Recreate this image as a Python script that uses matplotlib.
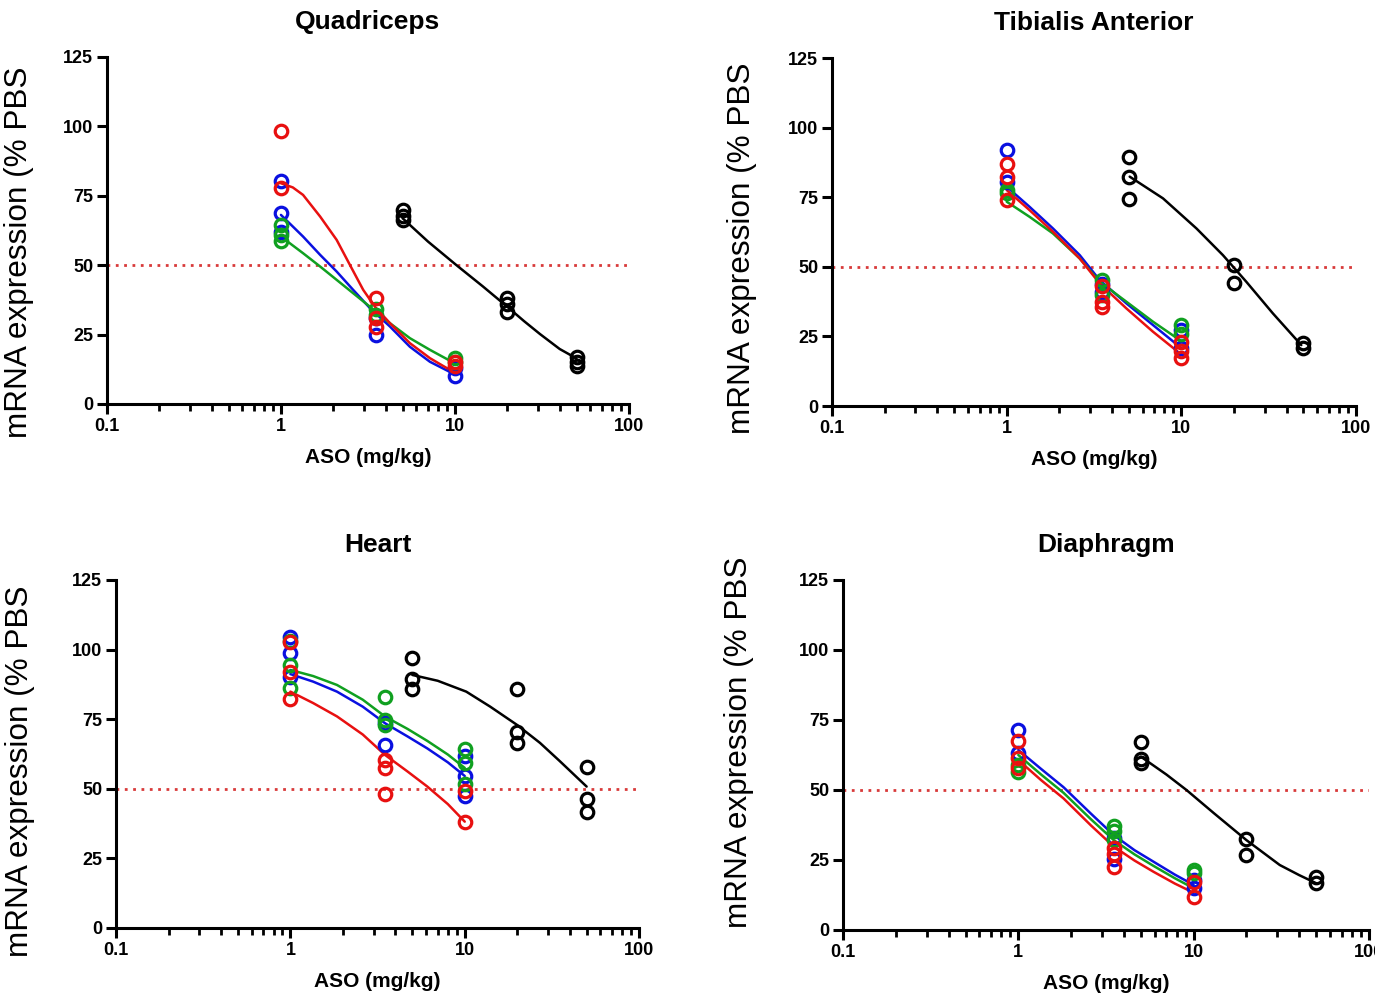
"""Dose-response of mRNA knockdown in four muscle tissues (four ASO series)."""
import matplotlib
matplotlib.use("Agg")
import matplotlib.pyplot as plt
from matplotlib.ticker import FixedLocator, LogLocator, NullFormatter

plt.rcParams["font.family"] = ["Liberation Sans", "DejaVu Sans"]

TITLES = ["Quadriceps", "Tibialis Anterior", "Heart", "Diaphragm"]
Y_LABEL = "mRNA expression (% PBS"
X_LABEL = "ASO (mg/kg)"
X_TICKS = [0.1, 1, 10, 100]
X_TICK_LABELS = ["0.1", "1", "10", "100"]
Y_TICKS = [0, 25, 50, 75, 100, 125]
HALF_LINE = 50

# individual animals, (dose, % PBS)
quad_blue = [(1, 80.3), (1, 68.7), (1, 62.1), (3.5, 31), (3.5, 24.9), (10, 13), (10, 10.2)]
quad_green = [(1, 64.5), (1, 61), (1, 58.7), (3.5, 34.2), (3.5, 32), (10, 16.4), (10, 15)]
quad_red = [(1, 98.3), (1, 77.9), (3.5, 38.3), (3.5, 30.8), (3.5, 27.9), (10, 15.0), (10, 13.5)]
quad_black = [(5, 69.9), (5, 67.7), (5, 66.3), (20, 38.3), (20, 35.9), (20, 33.3),
              (50, 16.8), (50, 15.2), (50, 13.5)]

tib_blue = [(1, 92.0), (1, 80.6), (3.5, 44), (3.5, 41), (10, 27.3), (10, 21)]
tib_green = [(1, 77.5), (1, 76.6), (3.5, 45.3), (3.5, 39.9), (10, 29.1), (10, 26)]
tib_red = [(1, 86.9), (1, 82.1), (1, 74.0), (3.5, 43.1), (3.5, 37.5), (3.5, 35.7),
           (10, 23.1), (10, 19.9), (10, 17.1)]
tib_black = [(5, 89.6), (5, 82.4), (5, 74.4), (20, 50.6), (20, 44.1), (50, 22.8), (50, 21.0)]

heart_blue = [(1, 104.6), (1, 98.8), (1, 90.3), (3.5, 73.5), (3.5, 65.7),
              (10, 61.8), (10, 54.6), (10, 47.4)]
heart_green = [(1, 103), (1, 94.5), (1, 86.1), (3.5, 82.8), (3.5, 74.7), (3.5, 72.9),
               (10, 64.2), (10, 59.2), (10, 51.6)]
heart_red = [(1, 102.6), (1, 92.1), (1, 82.1), (3.5, 60.3), (3.5, 57.3), (3.5, 48.1),
             (10, 49.2), (10, 38.0)]
heart_black = [(5, 96.9), (5, 89.3), (5, 85.7), (20, 85.8), (20, 70.5), (20, 66.4),
               (50, 57.9), (50, 46.2), (50, 41.8)]

dia_blue = [(1, 71.4), (1, 63.1), (3.5, 33), (3.5, 25.2), (10, 18), (10, 14.9)]
dia_green = [(1, 59), (1, 56.5), (3.5, 37.1), (3.5, 35.5), (3.5, 32.1), (10, 21.4), (10, 20.2)]
dia_red = [(1, 67.6), (1, 61.3), (1, 57.7), (3.5, 29.2), (3.5, 27.1), (3.5, 22.6),
           (10, 17.3), (10, 11.9)]
dia_black = [(5, 67.3), (5, 61.0), (5, 59.8), (20, 32.4), (20, 26.8), (50, 19.0), (50, 16.7)]

# fitted curves, (dose, % PBS)
quad_blue_fit = [(1, 68.1), (1.34, 60.3), (1.68, 53.7), (2.09, 47.7), (2.6, 41.1), (3.25, 34.5),
                 (4.23, 27.9), (5.51, 20.6), (7.18, 15.2), (10, 10.6)]
quad_green_fit = [(1, 60.3), (1.34, 54.3), (1.68, 49.5), (2.09, 44.7), (2.6, 39.9), (3.25, 35.0),
                  (4.23, 29.1), (5.51, 23.7), (7.18, 19.5), (10, 14.6)]
quad_red_fit = [(1, 79.5), (1.17, 78.0), (1.34, 75.3), (1.68, 67.5), (2.09, 59.1), (2.49, 50.1),
                (2.97, 41.1), (3.47, 35.0), (4.23, 29.1), (5.51, 21.9), (7.18, 16.5), (10, 11.2)]
quad_black_fit = [(5, 66.9), (7, 58.5), (10.2, 50), (14.5, 42.3), (20, 35), (25, 29.8),
                  (30.8, 25.2), (40, 19.8), (50, 16.4)]

tib_blue_fit = [(1, 78.8), (1.35, 71.6), (1.84, 63.8), (2.62, 54.2), (3.4, 45.3), (4.84, 36.9),
                (6.88, 29.1), (10, 20.8)]
tib_green_fit = [(1, 73.4), (1.35, 68.0), (1.84, 62.0), (2.62, 53.0), (3.4, 44.7), (4.84, 37.5),
                 (6.88, 30.3), (10, 23.3)]
tib_red_fit = [(1, 77.6), (1.35, 70.4), (1.84, 62.6), (2.62, 53.0), (3.4, 44.1), (4.84, 35.1),
               (6.88, 26.7), (10, 18.5)]
tib_black_fit = [(5.06, 82.4), (7.85, 74.6), (12.2, 63.8), (17.3, 54.2), (23.5, 44.7),
                 (33.4, 33.3), (48.6, 21.9)]

heart_blue_fit = [(1, 91.2), (1.35, 88.5), (1.85, 84.9), (2.6, 79.5), (3.5, 73.5), (4.7, 68.8),
                  (6.1, 64.5), (8, 59.5), (10, 54.6)]
heart_green_fit = [(1, 92.7), (1.35, 90.5), (1.85, 87.3), (2.6, 82.0), (3.5, 75.9), (4.7, 71.5),
                   (6.1, 67.2), (8, 62.3), (10, 57.5)]
heart_red_fit = [(1, 84.9), (1.35, 80.8), (1.85, 76.0), (2.6, 69.5), (3.5, 62.1), (4.7, 56.2),
                 (6.1, 50.8), (8, 44.5), (10, 38.2)]
heart_black_fit = [(5, 90.9), (7, 88.8), (10.2, 84.9), (14, 79.5), (20, 72.9), (27, 66.5),
                   (35, 60.0), (50, 50.8)]

dia_blue_fit = [(1, 64.3), (1.35, 57.5), (1.81, 51.0), (2.6, 41.5), (3.5, 33.9), (4.6, 28.5),
                (5.9, 24.4), (7.8, 19.8), (10, 16.1)]
dia_green_fit = [(1, 62.5), (1.35, 55.5), (1.81, 49.0), (2.6, 39.5), (3.5, 32.1), (4.6, 27.0),
                 (5.9, 22.9), (7.8, 18.5), (10, 14.9)]
dia_red_fit = [(1, 60.7), (1.35, 53.5), (1.81, 47.0), (2.6, 37.3), (3.5, 29.8), (4.6, 24.8),
               (5.9, 20.8), (7.8, 16.6), (10, 13.3)]
dia_black_fit = [(5, 61.9), (7, 55.5), (9.1, 50), (13, 41.8), (20, 32.1), (31, 23.2),
                 (40, 19.6), (50, 16.7)]

COLORS = {"blue": "#0a10e0", "green": "#10a020", "red": "#e81010", "black": "#000000"}


def draw_panel(ax, title, series, ylabel_xy):
    for color, pts, fit in series:
        ax.plot([d for d, _ in fit], [v for _, v in fit], color=COLORS[color],
                linewidth=1.8, solid_capstyle="round", solid_joinstyle="round", zorder=3)
        ax.plot([d for d, _ in pts], [v for _, v in pts], linestyle="none", marker="o",
                markersize=9, markerfacecolor="none", markeredgewidth=2.3,
                markeredgecolor=COLORS[color], zorder=4, clip_on=False)

    ax.axhline(HALF_LINE, color="#d83a3a", linestyle=(0, (1, 2)), linewidth=2.0, zorder=2)

    ax.set_xscale("log")
    ax.set_xlim(0.1, 100)
    ax.set_ylim(0, 125)
    ax.xaxis.set_major_locator(FixedLocator(X_TICKS))
    ax.set_xticklabels(X_TICK_LABELS)
    ax.xaxis.set_minor_locator(LogLocator(base=10, subs=range(2, 10)))
    ax.xaxis.set_minor_formatter(NullFormatter())
    ax.set_yticks(Y_TICKS)

    for side in ("top", "right"):
        ax.spines[side].set_visible(False)
    for side in ("left", "bottom"):
        ax.spines[side].set_linewidth(2.2)

    ax.tick_params(axis="both", which="major", length=7, width=2.2, direction="out",
                   labelsize=13, pad=3)
    ax.tick_params(axis="x", which="minor", length=5, width=2.0, direction="out")
    for lab in ax.get_xticklabels() + ax.get_yticklabels():
        lab.set_fontweight("bold")

    ax.set_title(title, fontsize=19, fontweight="bold", pad=20)
    ax.set_xlabel(X_LABEL, fontsize=15, fontweight="bold", labelpad=9.5)
    ax.set_ylabel(Y_LABEL, fontsize=22.7)
    ax.yaxis.set_label_coords(*ylabel_xy)


def main():
    fig = plt.figure(figsize=(13.75, 9.94), dpi=100)

    rects = [
        [0.0778, 0.5936, 0.3796, 0.3491],
        [0.6051, 0.5915, 0.3811, 0.3501],
        [0.0844, 0.0664, 0.3804, 0.3501],
        [0.6131, 0.0644, 0.3825, 0.3521],
    ]
    label_xy = [(-0.140, 0.438), (-0.143, 0.453), (-0.155, 0.451), (-0.169, 0.536)]

    panels = [
        [("blue", quad_blue, quad_blue_fit), ("green", quad_green, quad_green_fit),
         ("red", quad_red, quad_red_fit), ("black", quad_black, quad_black_fit)],
        [("blue", tib_blue, tib_blue_fit), ("green", tib_green, tib_green_fit),
         ("red", tib_red, tib_red_fit), ("black", tib_black, tib_black_fit)],
        [("blue", heart_blue, heart_blue_fit), ("green", heart_green, heart_green_fit),
         ("red", heart_red, heart_red_fit), ("black", heart_black, heart_black_fit)],
        [("blue", dia_blue, dia_blue_fit), ("green", dia_green, dia_green_fit),
         ("red", dia_red, dia_red_fit), ("black", dia_black, dia_black_fit)],
    ]

    for rect, title, series, lxy in zip(rects, TITLES, panels, label_xy):
        ax = fig.add_axes(rect)
        draw_panel(ax, title, series, lxy)

    fig.savefig("out.png", dpi=100)


if __name__ == "__main__":
    main()
